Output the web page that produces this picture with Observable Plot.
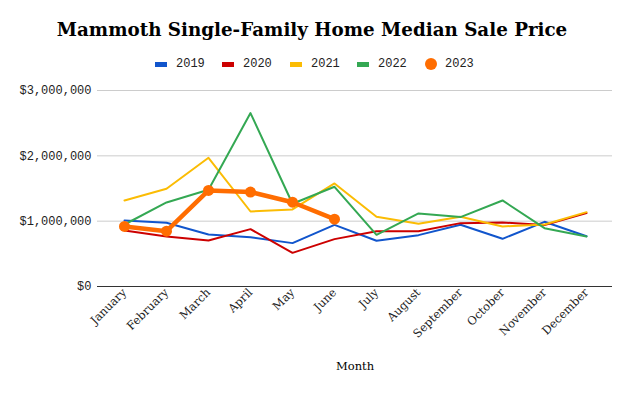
<!DOCTYPE html>
<html><head><meta charset="utf-8">
<script src="https://cdn.jsdelivr.net/npm/d3@7"></script>
<script src="https://cdn.jsdelivr.net/npm/@observablehq/plot@0.6"></script>
<style>
body{margin:0;background:#fff;width:632px;height:393px;overflow:hidden;position:relative;}
#title{position:absolute;left:-4px;width:632px;top:19px;text-align:center;font-family:"DejaVu Serif",serif;font-weight:bold;font-size:18.3px;color:#000;}
#legend{position:absolute;top:57px;left:0;width:632px;height:14px;font-family:"Liberation Mono",monospace;font-size:12px;color:#222;}
.item{position:absolute;top:0;height:14px;}
.sw{position:absolute;top:5px;width:12px;height:5px;}
.dot{position:absolute;top:1px;width:12px;height:12px;border-radius:50%;}
.lab{position:absolute;top:0;line-height:14px;white-space:nowrap;}
#chart{position:absolute;left:0;top:80px;}
#chart svg g[aria-label="x-axis tick label"] text{font-family:"DejaVu Serif",serif;font-size:11.5px;}
</style></head>
<body>
<div id="title">Mammoth Single-Family Home Median Sale Price</div>
<div id="legend"></div>
<div id="chart"></div>
<script>
const months = ["January","February","March","April","May","June","July","August","September","October","November","December"];
const years = ["2019","2020","2021","2022","2023"];
const colors = ["#1155cc","#cc0000","#fbbc04","#34a853","#ff6d01"];
const yTicks = [0, 1000000, 2000000, 3000000];
const v2019 = [1010000, 975000, 796000, 755000, 664000, 944000, 700000, 786000, 945000, 730000, 990000, 770000];
const v2020 = [858000, 766000, 704000, 878000, 515000, 725000, 847000, 847000, 970000, 980000, 940000, 1123000];
const v2021 = [1317000, 1496000, 1970000, 1148000, 1180000, 1577000, 1067000, 960000, 1067000, 919000, 949000, 1138000];
const v2022 = [949000, 1286000, 1480000, 2654000, 1266000, 1526000, 791000, 1118000, 1062000, 1317000, 893000, 766000];
const v2023 = [919000, 847000, 1470000, 1445000, 1290000, 1030000];

const series = [v2019, v2020, v2021, v2022, v2023];
const rows = [];
series.forEach((arr, i) => arr.forEach((v, j) => rows.push({year: years[i], month: months[j], value: v})));
const thin = rows.filter(d => d.year !== "2023");
const bold = rows.filter(d => d.year === "2023");

// legend
const legendX = [155, 222, 290, 357, 425];
const leg = document.getElementById("legend");
years.forEach((y, i) => {
  const it = document.createElement("div");
  it.className = "item";
  it.style.left = legendX[i] + "px";
  const s = document.createElement("div");
  s.className = i === 4 ? "dot" : "sw";
  s.style.left = "0px";
  s.style.background = colors[i];
  const t = document.createElement("div");
  t.className = "lab";
  t.style.left = (i === 4 ? 20 : 21) + "px";
  t.textContent = y;
  it.appendChild(s); it.appendChild(t);
  leg.appendChild(it);
});

const chart = Plot.plot({
  width: 632,
  height: 313,
  marginTop: 10,
  marginBottom: 107,
  marginLeft: 97,
  marginRight: 20,
  style: {fontFamily: "Liberation Serif, serif", fontSize: "12px", color: "#222", background: "#fff"},
  x: {type: "point", domain: months, padding: 0.5, label: null},
  y: {domain: [0, 3000000], label: null},
  color: {domain: years, range: colors},
  marks: [
    Plot.gridY(yTicks, {stroke: "#ccc", strokeOpacity: 1, strokeWidth: 1}),
    Plot.ruleY([0], {stroke: "#333", strokeWidth: 1.2}),
    Plot.axisY({ticks: yTicks, tickSize: 0, tickPadding: 6, tickFormat: d => "$" + d3.format(",")(d), fontFamily: "Liberation Mono, monospace", fontSize: 12, label: null}),
    Plot.axisX({tickSize: 0, tickRotate: -45, tickPadding: 4, fontFamily: "DejaVu Serif, serif", fontSize: 11.5, label: null}),
    Plot.lineY(thin, {x: "month", y: "value", z: "year", stroke: "year", strokeWidth: 2}),
    Plot.lineY(bold, {x: "month", y: "value", stroke: "year", strokeWidth: 4.5}),
    Plot.dot(bold, {x: "month", y: "value", fill: "year", r: 5.5}),
    Plot.text(["Month"], {frameAnchor: "bottom", dy: 83, fontFamily: "DejaVu Serif, serif", fontSize: 11.5, fill: "#000"})
  ]
});
document.getElementById("chart").appendChild(chart);
</script>
</body></html>
